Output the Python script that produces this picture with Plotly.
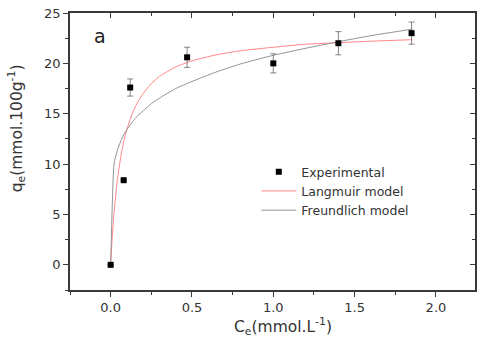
import plotly.graph_objects as go

# Experimental data
ce_exp = [0.0, 0.08, 0.12, 0.47, 1.0, 1.40, 1.85]
qe_exp = [0.0, 8.4, 17.6, 20.6, 20.0, 22.0, 23.0]
qe_err = [0.0, 0.0, 0.85, 1.0, 0.95, 1.15, 1.1]

# Langmuir model curve
ce_lang = [0.0, 0.01, 0.02, 0.04, 0.06, 0.08, 0.10, 0.13, 0.16, 0.20, 0.25, 0.30,
           0.40, 0.50, 0.65, 0.80, 1.0, 1.2, 1.4, 1.6, 1.856]
qe_lang = [0.0, 2.8, 5.0, 8.25, 10.5, 12.2, 13.45, 14.9, 15.95, 17.0, 18.0, 18.7,
           19.65, 20.25, 20.85, 21.25, 21.6, 21.9, 22.05, 22.2, 22.35]

# Freundlich model curve
ce_freu = [0.0, 0.02, 0.03, 0.05, 0.08, 0.12, 0.16, 0.20, 0.25, 0.30, 0.40, 0.50,
           0.65, 0.80, 1.0, 1.2, 1.4, 1.6, 1.856]
qe_freu = [0.0, 9.9, 10.7, 11.8, 12.9, 13.9, 14.7, 15.3, 16.0, 16.55, 17.5, 18.2,
           19.15, 19.95, 20.8, 21.5, 22.15, 22.75, 23.4]

x_ticks = [0.0, 0.5, 1.0, 1.5, 2.0]
y_ticks = [0, 5, 10, 15, 20, 25]

FONT = "DejaVu Sans, Liberation Sans, Arial, sans-serif"
TXT = "#333333"
AX = "#3a3a3a"

fig = go.Figure()
fig.add_trace(go.Scatter(
    x=ce_lang, y=qe_lang, mode="lines", name="Langmuir model",
    line=dict(color="#ff8585", width=1, shape="spline", smoothing=0.6),
    legendrank=2))
fig.add_trace(go.Scatter(
    x=ce_freu, y=qe_freu, mode="lines", name="Freundlich model",
    line=dict(color="#949494", width=1, shape="spline", smoothing=0.6),
    legendrank=3))
fig.add_trace(go.Scatter(
    x=ce_exp, y=qe_exp, mode="markers", name="Experimental",
    marker=dict(symbol="square", size=6, color="black"),
    error_y=dict(type="data", array=qe_err, visible=True, color="#666666",
                 thickness=0.8, width=3),
    legendrank=1))
# dummy trace for mirrored top/right axes
fig.add_trace(go.Scatter(x=[None], y=[None], xaxis="x2", yaxis="y2",
                         showlegend=False, hoverinfo="skip"))

axis_common = dict(
    showgrid=False, zeroline=False, showline=True, linecolor=AX, linewidth=1.5,
    tickcolor=AX, tickwidth=1, ticklen=5,
    tickfont=dict(family=FONT, size=13, color=TXT),
)

fig.update_layout(
    width=477, height=338,
    margin=dict(l=70, r=1.5, t=13.3, b=47.5),
    paper_bgcolor="white", plot_bgcolor="white",
    font=dict(family=FONT, size=13, color=TXT),
    showlegend=True,
    legend=dict(x=0.46, y=0.48, xanchor="left", yanchor="top",
                bgcolor="rgba(0,0,0,0)", font=dict(family=FONT, size=12.5, color=TXT),
                tracegroupgap=0, itemwidth=35),
    xaxis=dict(range=[-0.25, 2.24], tickvals=x_ticks, ticktext=["0.0", "0.5", "1.0", "1.5", "2.0"],
               ticks="outside",
               minor=dict(dtick=0.25, ticks="outside", ticklen=3, tickcolor=AX),
               **axis_common),
    yaxis=dict(range=[-2.5, 25], tickvals=y_ticks, ticks="outside",
               minor=dict(dtick=2.5, tick0=0, ticks="outside", ticklen=3, tickcolor=AX),
               **axis_common),
    xaxis2=dict(overlaying="x", side="top", matches="x", anchor="y2",
                ticks="inside", showticklabels=False, tickvals=x_ticks,
                minor=dict(dtick=0.25, ticks="inside", ticklen=3, tickcolor=AX),
                showgrid=False, zeroline=False, showline=True, linecolor=AX,
                linewidth=1.5, tickcolor=AX, ticklen=5),
    yaxis2=dict(overlaying="y", side="right", matches="y", anchor="x2",
                ticks="inside", showticklabels=False, tickvals=y_ticks,
                minor=dict(dtick=2.5, tick0=0, ticks="inside", ticklen=3, tickcolor=AX),
                showgrid=False, zeroline=False, showline=True, linecolor=AX,
                linewidth=1.5, tickcolor=AX, ticklen=5),
    annotations=[
        dict(text="a", x=-0.066, y=22.67, xref="x", yref="y", showarrow=False,
             font=dict(family=FONT, size=19, color="#222222")),
        dict(text="C<sub>e</sub>(mmol.L<sup>-1</sup>)", x=0.525, y=-0.132,
             xref="paper", yref="paper", showarrow=False, yanchor="middle",
             font=dict(family=FONT, size=15.5, color=TXT)),
        dict(text="q<sub>e</sub>(mmol.100g<sup>-1</sup>)", x=-0.13, y=0.585,
             xref="paper", yref="paper", showarrow=False, textangle=-90,
             xanchor="center", yanchor="middle",
             font=dict(family=FONT, size=15.5, color=TXT)),
    ],
)

fig.write_html("out.html")
